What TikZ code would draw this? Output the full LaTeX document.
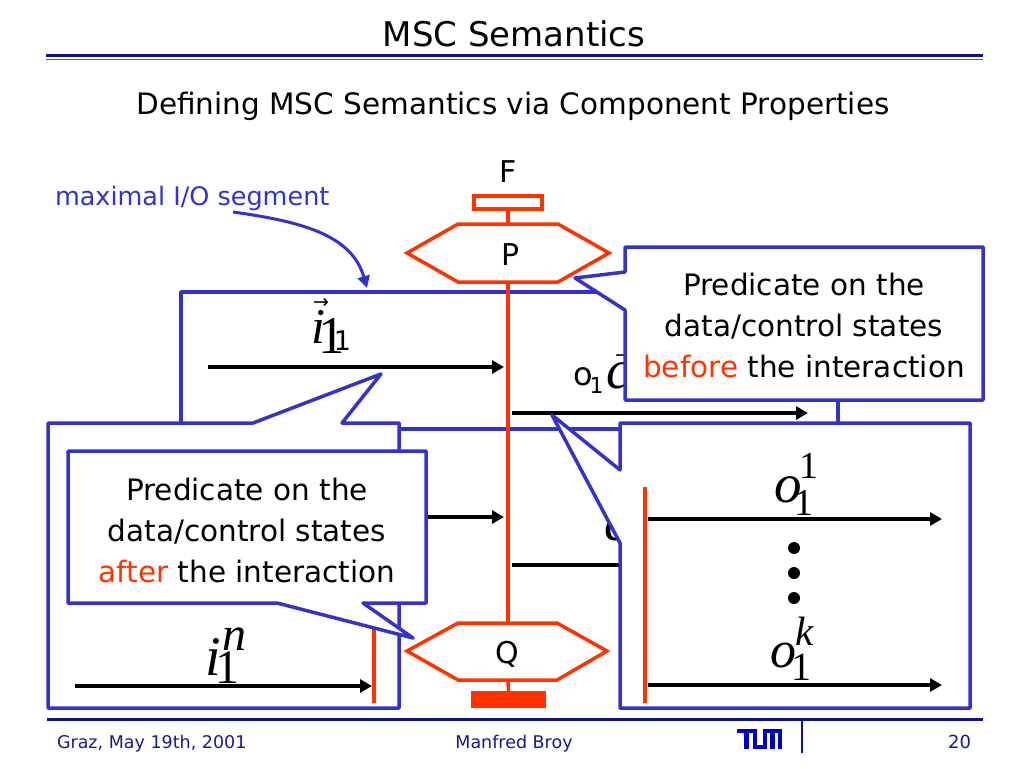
\documentclass[tikz,border=0pt]{standalone}
\usepackage{fontspec}
\setmainfont{DejaVu Sans}
\newfontfamily\tmsfont{Liberation Serif}
\newfontfamily\arrfont{DejaVu Sans}
\usetikzlibrary{arrows.meta}
\definecolor{cblue}{RGB}{51,51,204}
\definecolor{cred}{RGB}{255,51,0}
\definecolor{navy}{RGB}{16,16,140}
\definecolor{navyl}{RGB}{80,80,185}
\definecolor{ftxt}{RGB}{24,24,150}
\definecolor{logoblue}{RGB}{0,0,204}
\newcommand\fsz[1]{\fontsize{#1}{#1}\selectfont}
\tikzset{
  bluebox/.style={draw=cblue, line width=3.5pt, line join=round},
  callout/.style={bluebox, fill=white},
  redline/.style={draw=cred, line width=3.5pt},
  hexa/.style={draw=cred, line width=3.5pt, fill=white, line join=miter},
  msg/.style={draw=black, line width=3.5pt, -{Triangle[length=12pt,width=13pt]}},
  lbl/.style={inner sep=0pt, outer sep=0pt},
  ctext/.style={inner sep=0pt, align=center, font=\fontsize{29.5}{41}\selectfont},
  logobar/.style={fill=logoblue, draw=none},
}
\begin{document}
\begin{tikzpicture}[x=1pt,y=-1pt]
\useasboundingbox (0,0) rectangle (1024,768);
\fill[white] (0,0) rectangle (1024,768);

% ---- title
\node[lbl, anchor=base, font=\fsz{34}] (title) at (514,47) {MSC Semantics};
\coordinate (tl1) at (46,55.5); \coordinate (tr1) at (983,55.5);
\coordinate (tl2) at (46,59.5); \coordinate (tr2) at (983,59.5);
\draw[navy, line width=3.5pt] (tl1) -- (tr1);
\draw[navyl, line width=1.2pt] (tl2) -- (tr2);
\node[lbl, anchor=base, font=\fsz{29.5}] (subtitle) at (513,114) {Defining MSC Semantics via Component Properties};

% ---- segment frame
\node[bluebox, anchor=north west, minimum width=657pt, minimum height=137pt, inner sep=0pt, outer sep=0pt] (seg) at (181,292) {};

% ---- MSC background
\node[lbl, anchor=base, font=\fsz{30}] (Flbl) at (508,182) {F};
\node[draw=cred, line width=3.5pt, minimum width=68pt, minimum height=13pt, inner sep=0pt, outer sep=0pt] (Fbox) at (508,202.5) {};
\coordinate (Ptop) at (508,224);
\coordinate (Pbot) at (508,282);
\draw[redline] (Fbox.south) -- (Ptop);
\draw[hexa] (407,253) -- (458,224) -- (558,224) -- (609,253) -- (558,282) -- (458,282) -- cycle;
\node[lbl, anchor=base, font=\fsz{30}] (P) at (511,265) {P};

\coordinate (Qtop) at (508,623);
\coordinate (Qbot) at (508,680);
\draw[redline] (Pbot) -- (Qtop);

\coordinate (i1s) at (208,367); \coordinate (i1e) at (504,367);
\draw[msg] (i1s) -- (i1e);
\coordinate (o1s) at (512,413); \coordinate (o1e) at (808,413);
\draw[msg] (o1s) -- (o1e);
\coordinate (i2s) at (208,517); \coordinate (i2e) at (504,517);
\draw[msg] (i2s) -- (i2e);
\coordinate (o2s) at (512,565); \coordinate (o2e) at (808,565);
\draw[msg] (o2s) -- (o2e);

\node[lbl, anchor=base west] (ivec) at (311,343) {\tmsfont\itshape\fsz{50}\rlap{\kern2pt\raisebox{35pt}{\arrfont\upshape\fsz{19}→}}i\upshape\kern-6pt\raisebox{-10pt}{\fsz{53}1}\kern-11.5pt\raisebox{-7pt}{\rmfamily\fsz{27}1}};
\node[lbl, anchor=base west] (oc1) at (573,385) {\fsz{32}o\kern-3pt\raisebox{-8pt}{\fsz{22}1}\kern2.5pt\tmsfont\itshape\fsz{55}\rlap{\kern9pt\raisebox{24pt}{\arrfont\upshape\fsz{19}→}}\raisebox{-3pt}{c}};
\node[lbl, anchor=base west] (c2) at (604,540) {\tmsfont\itshape\fsz{55}c};

\draw[hexa] (407,651) -- (458,623) -- (557,623) -- (607,651) -- (557,680) -- (458,680) -- cycle;
\node[lbl, anchor=base, font=\fsz{30}] (Q) at (507,663) {Q};
\node[fill=cred, minimum width=75pt, minimum height=17pt, inner sep=0pt, outer sep=0pt] (endbar) at (508.5,699.5) {};
\draw[redline] (Qbot) -- (endbar.north);

% ---- bottom-left zoom callout (inputs)
\draw[callout] (48,423) -- (253,423) -- (381,374) -- (342,423) -- (399,423) -- (399,708) -- (48,708) -- cycle;
\coordinate (lla) at (374,615); \coordinate (llb) at (374,703);
\draw[redline] (lla) -- (llb);
\coordinate (ins) at (75,686); \coordinate (ine) at (372,686);
\draw[msg] (ins) -- (ine);
\node[lbl, anchor=base west] (in) at (205,675) {\tmsfont\itshape\fsz{56}i\rlap{\kern1.5pt\raisebox{25pt}{\fsz{48}n}}\upshape\kern-5pt\raisebox{-8pt}{\fsz{48}1}};

% ---- "after" callout
\draw[callout] (68,451) -- (426,451) -- (426,603) -- (363,603) -- (413,638) -- (277,603) -- (68,603) -- cycle;
\node[ctext, anchor=base] (after) at (247,582) {Predicate on the\\data/control states\\{\color{cred}after} the interaction};

% ---- right zoom callout (outputs)
\draw[callout] (620,423) -- (970,423) -- (970,708) -- (620,708) -- (620,543) -- (552,415) -- (620,470) -- cycle;
\coordinate (rla) at (645,487); \coordinate (rlb) at (645,703);
\draw[redline] (rla) -- (rlb);
\coordinate (out1s) at (648,519); \coordinate (out1e) at (942,519);
\draw[msg] (out1s) -- (out1e);
\coordinate (outks) at (648,685); \coordinate (outke) at (942,685);
\draw[msg] (outks) -- (outke);
\node[lbl, anchor=base west] (o11) at (774,502) {\tmsfont\itshape\fsz{55}o\upshape\rlap{\kern-2pt\raisebox{24pt}{\fsz{38}1}}\kern-7pt\raisebox{-13pt}{\fsz{38}1}};
\node[lbl, anchor=base west] (o1k) at (770,667) {\tmsfont\itshape\fsz{52}o\rlap{\kern-1pt\raisebox{22pt}{\fsz{41}k}}\upshape\kern-5pt\raisebox{-13pt}{\fsz{40}1}};
\fill (794,548) circle (6pt);
\fill (794,573) circle (6pt);
\fill (794,598) circle (6pt);

% ---- "before" callout
\draw[callout] (625,247) -- (983,247) -- (983,400) -- (625,400) -- (625,310) -- (575,278) -- (625,272) -- cycle;
\node[ctext, anchor=base] (before) at (804,377) {Predicate on the\\data/control states\\{\color{cred}before} the interaction};

% ---- maximal I/O segment
\node[lbl, anchor=base west, font=\fsz{25.5}, text=cblue] (maxl) at (55,205) {maximal I/O segment};
\coordinate (mxs) at (233,212);
\draw[cblue, line width=3pt, -{Triangle[length=12pt,width=12pt]}] (mxs) .. controls (305,222) and (352,236) .. ([xshift=186pt,yshift=4pt]seg.north west);

% ---- footer
\coordinate (fl) at (47,719); \coordinate (fr) at (983,719);
\draw[navy, line width=3pt] (fl) -- (fr);
\node[lbl, anchor=base west, font=\fsz{17.5}, text=ftxt] (date) at (57,748) {Graz, May 19th, 2001};
\node[lbl, anchor=base, font=\fsz{17.5}, text=ftxt] (author) at (514,748) {Manfred Broy};
\node[lbl, anchor=base east, font=\fsz{18}, text=ftxt] (page) at (971,748) {20};
\fill[logobar] (737,729) rectangle (757,733);
\fill[logobar] (744,729) rectangle (749,749);
\fill[logobar] (753,729) rectangle (757,749);
\fill[logobar] (753,745) rectangle (767,749);
\fill[logobar] (762.5,729) rectangle (767,749);
\fill[logobar] (762.5,729) rectangle (782,733);
\fill[logobar] (770,729) rectangle (774.5,749);
\fill[logobar] (777.5,729) rectangle (782,749);
\coordinate (vla) at (802,721); \coordinate (vlb) at (802,753);
\draw[navy, line width=2pt] (vla) -- (vlb);
\end{tikzpicture}
\end{document}
